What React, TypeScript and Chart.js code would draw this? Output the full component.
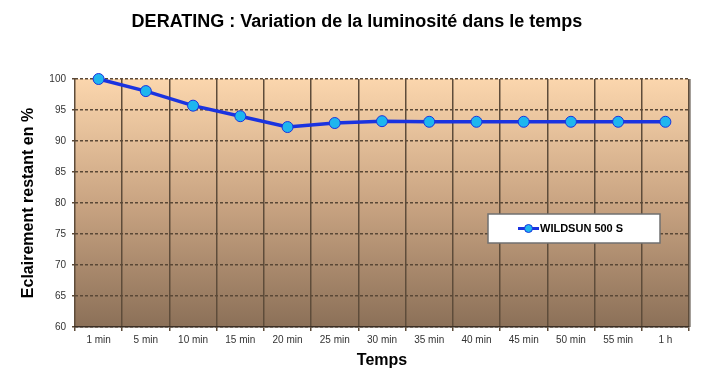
import React, { useEffect, useRef } from "react";
import { Chart, registerables } from "chart.js";

Chart.register(...registerables);

const categories = ["1 min", "5 min", "10 min", "15 min", "20 min", "25 min", "30 min", "35 min", "40 min", "45 min", "50 min", "55 min", "1 h"];
const wildsun = [100, 98.05, 95.7, 94.0, 92.25, 92.9, 93.2, 93.1, 93.1, 93.1, 93.1, 93.1, 93.1];
const seriesName = "WILDSUN 500 S";
const chartTitle = "DERATING : Variation de la luminosité dans le temps";
const xTitle = "Temps";
const yTitle = "Eclairement restant en %";
const yMin = 60;
const yMax = 100;
const yStep = 5;

const FONT = "'Liberation Sans', Arial, Helvetica, sans-serif";

export default function App() {
  const ref = useRef<HTMLCanvasElement | null>(null);
  useEffect(() => {
    document.body.style.margin = "0";
    const canvas = ref.current!;
    const bgPlugin = {
      id: "bgPlugin",
      beforeDraw(chart: any) {
        const { ctx, chartArea: a } = chart;
        ctx.save();
        ctx.fillStyle = "#ffffff";
        ctx.fillRect(0, 0, chart.width, chart.height);
        const g = ctx.createLinearGradient(0, a.top, 0, a.bottom);
        g.addColorStop(0, "#fbd6ad");
        g.addColorStop(0.5, "#c9a482");
        g.addColorStop(1, "#8b7058");
        ctx.fillStyle = g;
        ctx.fillRect(a.left, a.top, a.right - a.left, a.bottom - a.top);
        ctx.fillStyle = "rgba(90,80,70,0.55)";
        ctx.fillRect(a.right, a.top, 2, a.bottom - a.top);
        ctx.fillStyle = "#000";
        ctx.font = `bold 18px ${FONT}`;
        ctx.textAlign = "center";
        ctx.textBaseline = "middle";
        ctx.fillText(chartTitle, 357, 22);
        ctx.restore();
      },
      afterDraw(chart: any) {
        const { ctx } = chart;
        ctx.save();
        const bx = 488, by = 214, bw = 172, bh = 29;
        ctx.fillStyle = "#ffffff";
        ctx.fillRect(bx, by, bw, bh);
        ctx.strokeStyle = "#707070";
        ctx.lineWidth = 1.5;
        ctx.strokeRect(bx, by, bw, bh);
        const cy = by + bh / 2;
        ctx.strokeStyle = "#1a33e0";
        ctx.lineWidth = 3;
        ctx.beginPath();
        ctx.moveTo(518, cy);
        ctx.lineTo(539, cy);
        ctx.stroke();
        ctx.beginPath();
        ctx.arc(528.5, cy, 4, 0, Math.PI * 2);
        ctx.fillStyle = "#1eb6ef";
        ctx.fill();
        ctx.lineWidth = 1;
        ctx.strokeStyle = "#1a33e0";
        ctx.stroke();
        ctx.fillStyle = "#000";
        ctx.font = `bold 11px ${FONT}`;
        ctx.textAlign = "left";
        ctx.textBaseline = "middle";
        ctx.fillText(seriesName, 540, cy + 0.5);
        ctx.restore();
      },
    };

    const chart = new Chart(canvas, {
      type: "line",
      data: {
        labels: categories,
        datasets: [
          {
            label: seriesName,
            data: wildsun,
            borderColor: "#1a33e0",
            borderWidth: 3.5,
            backgroundColor: "#1eb6ef",
            pointBackgroundColor: "#1eb6ef",
            pointBorderColor: "#1a33e0",
            pointBorderWidth: 1,
            pointRadius: 5.5,
            tension: 0,
            clip: false,
          } as any,
        ],
      },
      options: {
        responsive: false,
        animation: false,
        devicePixelRatio: 1,
        layout: { padding: { left: 0, right: 21, top: 79, bottom: 0 } },
        plugins: {
          legend: { display: false },
          title: { display: false },
          tooltip: { enabled: false },
        },
        scales: {
          x: {
            offset: true,
            afterFit(scale: any) {
              scale.height = 61;
            },
            grid: {
              offset: true,
              color: "#5e4c3a",
              lineWidth: 1.5,
              tickLength: 4,
              drawTicks: true,
            },
            border: { display: true, color: "#3a2e24", width: 1.5 },
            ticks: {
              color: "#333",
              font: { family: FONT, size: 10 },
              padding: 3,
              maxRotation: 0,
              autoSkip: false,
            },
            title: {
              display: true,
              text: xTitle,
              color: "#000",
              font: { family: FONT, size: 16, weight: "bold" },
              padding: { top: 0, bottom: 18 },
            },
          },
          y: {
            min: yMin,
            max: yMax,
            afterFit(scale: any) {
              scale.width = 75;
            },
            ticks: {
              stepSize: yStep,
              color: "#333",
              font: { family: FONT, size: 10 },
              padding: 6,
            },
            grid: {
              color: "#5a4836",
              lineWidth: 1.5,
              tickLength: 3,
            },
            border: { display: false, dash: [3, 2] },
            title: {
              display: true,
              text: yTitle,
              color: "#000",
              font: { family: FONT, size: 16, weight: "bold" },
              padding: { top: 19, bottom: 0 },
            },
          },
        },
      },
      plugins: [bgPlugin],
    });
    return () => chart.destroy();
  }, []);
  return <canvas ref={ref} width={710} height={388} style={{ display: "block" }} />;
}
